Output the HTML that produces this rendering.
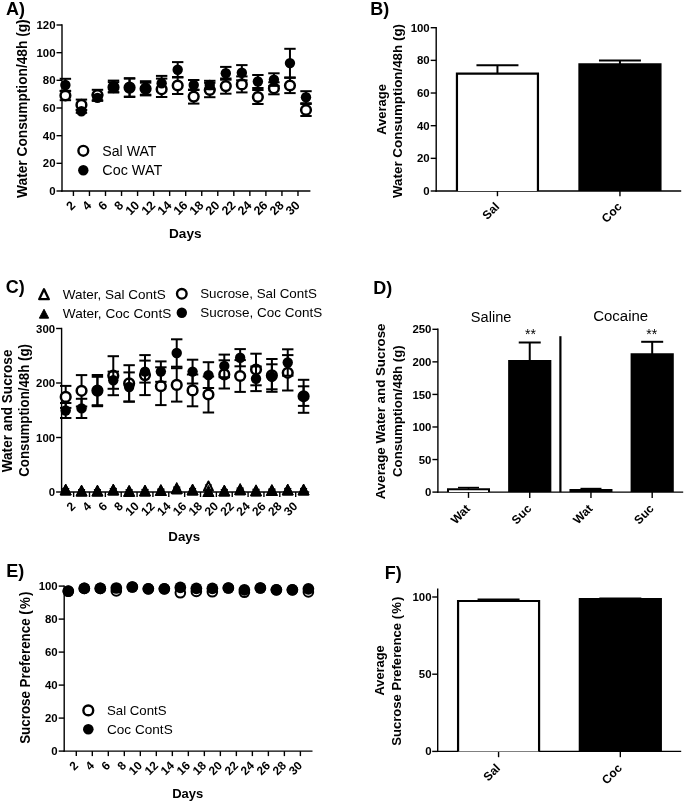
<!DOCTYPE html>
<html lang="en">
<head>
<meta charset="utf-8">
<title>Water and sucrose consumption figure</title>
<style>
html,body{margin:0;padding:0;background:#fff;}
body{width:685px;height:802px;overflow:hidden;}
svg{display:block;filter:grayscale(1);}
svg text{font-family:"Liberation Sans", Arial, Helvetica, sans-serif;fill:#000;}
</style>
</head>
<body>
<svg width="685" height="802" viewBox="0 0 685 802">
<rect x="0" y="0" width="685" height="802" fill="#fff"/>
<text x="5.90" y="14.70" font-size="18" font-weight="bold" text-anchor="start" >A)</text>
<line x1="62.00" y1="24.30" x2="62.00" y2="191.70" stroke="#000" stroke-width="1.4" />
<line x1="56.50" y1="25.00" x2="62.00" y2="25.00" stroke="#000" stroke-width="1.4" />
<text x="55.50" y="29.08" font-size="11.4" font-weight="bold" text-anchor="end" >120</text>
<line x1="56.50" y1="52.67" x2="62.00" y2="52.67" stroke="#000" stroke-width="1.4" />
<text x="55.50" y="56.75" font-size="11.4" font-weight="bold" text-anchor="end" >100</text>
<line x1="56.50" y1="80.33" x2="62.00" y2="80.33" stroke="#000" stroke-width="1.4" />
<text x="55.50" y="84.41" font-size="11.4" font-weight="bold" text-anchor="end" >80</text>
<line x1="56.50" y1="108.00" x2="62.00" y2="108.00" stroke="#000" stroke-width="1.4" />
<text x="55.50" y="112.08" font-size="11.4" font-weight="bold" text-anchor="end" >60</text>
<line x1="56.50" y1="135.67" x2="62.00" y2="135.67" stroke="#000" stroke-width="1.4" />
<text x="55.50" y="139.75" font-size="11.4" font-weight="bold" text-anchor="end" >40</text>
<line x1="56.50" y1="163.33" x2="62.00" y2="163.33" stroke="#000" stroke-width="1.4" />
<text x="55.50" y="167.41" font-size="11.4" font-weight="bold" text-anchor="end" >20</text>
<line x1="56.50" y1="191.00" x2="62.00" y2="191.00" stroke="#000" stroke-width="1.4" />
<text x="55.50" y="195.08" font-size="11.4" font-weight="bold" text-anchor="end" >0</text>
<line x1="61.30" y1="191.00" x2="310.40" y2="191.00" stroke="#000" stroke-width="1.4" />
<line x1="73.42" y1="191.00" x2="73.42" y2="196.00" stroke="#000" stroke-width="1.4" />
<line x1="89.46" y1="191.00" x2="89.46" y2="196.00" stroke="#000" stroke-width="1.4" />
<line x1="105.50" y1="191.00" x2="105.50" y2="196.00" stroke="#000" stroke-width="1.4" />
<line x1="121.54" y1="191.00" x2="121.54" y2="196.00" stroke="#000" stroke-width="1.4" />
<line x1="137.58" y1="191.00" x2="137.58" y2="196.00" stroke="#000" stroke-width="1.4" />
<line x1="153.62" y1="191.00" x2="153.62" y2="196.00" stroke="#000" stroke-width="1.4" />
<line x1="169.66" y1="191.00" x2="169.66" y2="196.00" stroke="#000" stroke-width="1.4" />
<line x1="185.70" y1="191.00" x2="185.70" y2="196.00" stroke="#000" stroke-width="1.4" />
<line x1="201.74" y1="191.00" x2="201.74" y2="196.00" stroke="#000" stroke-width="1.4" />
<line x1="217.78" y1="191.00" x2="217.78" y2="196.00" stroke="#000" stroke-width="1.4" />
<line x1="233.82" y1="191.00" x2="233.82" y2="196.00" stroke="#000" stroke-width="1.4" />
<line x1="249.86" y1="191.00" x2="249.86" y2="196.00" stroke="#000" stroke-width="1.4" />
<line x1="265.90" y1="191.00" x2="265.90" y2="196.00" stroke="#000" stroke-width="1.4" />
<line x1="281.94" y1="191.00" x2="281.94" y2="196.00" stroke="#000" stroke-width="1.4" />
<line x1="297.98" y1="191.00" x2="297.98" y2="196.00" stroke="#000" stroke-width="1.4" />
<text x="0" y="0" transform="translate(76.02,206.10) rotate(-45)" font-size="12.4" font-weight="bold" text-anchor="end" >2</text>
<text x="0" y="0" transform="translate(92.06,206.10) rotate(-45)" font-size="12.4" font-weight="bold" text-anchor="end" >4</text>
<text x="0" y="0" transform="translate(108.10,206.10) rotate(-45)" font-size="12.4" font-weight="bold" text-anchor="end" >6</text>
<text x="0" y="0" transform="translate(124.14,206.10) rotate(-45)" font-size="12.4" font-weight="bold" text-anchor="end" >8</text>
<text x="0" y="0" transform="translate(140.18,206.10) rotate(-45)" font-size="12.4" font-weight="bold" text-anchor="end" >10</text>
<text x="0" y="0" transform="translate(156.22,206.10) rotate(-45)" font-size="12.4" font-weight="bold" text-anchor="end" >12</text>
<text x="0" y="0" transform="translate(172.26,206.10) rotate(-45)" font-size="12.4" font-weight="bold" text-anchor="end" >14</text>
<text x="0" y="0" transform="translate(188.30,206.10) rotate(-45)" font-size="12.4" font-weight="bold" text-anchor="end" >16</text>
<text x="0" y="0" transform="translate(204.34,206.10) rotate(-45)" font-size="12.4" font-weight="bold" text-anchor="end" >18</text>
<text x="0" y="0" transform="translate(220.38,206.10) rotate(-45)" font-size="12.4" font-weight="bold" text-anchor="end" >20</text>
<text x="0" y="0" transform="translate(236.42,206.10) rotate(-45)" font-size="12.4" font-weight="bold" text-anchor="end" >22</text>
<text x="0" y="0" transform="translate(252.46,206.10) rotate(-45)" font-size="12.4" font-weight="bold" text-anchor="end" >24</text>
<text x="0" y="0" transform="translate(268.50,206.10) rotate(-45)" font-size="12.4" font-weight="bold" text-anchor="end" >26</text>
<text x="0" y="0" transform="translate(284.54,206.10) rotate(-45)" font-size="12.4" font-weight="bold" text-anchor="end" >28</text>
<text x="0" y="0" transform="translate(300.58,206.10) rotate(-45)" font-size="12.4" font-weight="bold" text-anchor="end" >30</text>
<text x="185.30" y="238.00" font-size="13.6" font-weight="bold" text-anchor="middle" >Days</text>
<text x="0" y="0" transform="translate(27.30,108.60) rotate(-90)" font-size="14" font-weight="bold" text-anchor="middle" textLength="178.6" lengthAdjust="spacingAndGlyphs" >Water Consumption/48h (g)</text>
<line x1="65.40" y1="90.80" x2="65.40" y2="100.20" stroke="#000" stroke-width="2.0" />
<line x1="59.70" y1="90.80" x2="71.10" y2="90.80" stroke="#000" stroke-width="2.0" />
<line x1="59.70" y1="100.20" x2="71.10" y2="100.20" stroke="#000" stroke-width="2.0" />
<line x1="81.44" y1="99.60" x2="81.44" y2="110.20" stroke="#000" stroke-width="2.0" />
<line x1="75.74" y1="99.60" x2="87.14" y2="99.60" stroke="#000" stroke-width="2.0" />
<line x1="75.74" y1="110.20" x2="87.14" y2="110.20" stroke="#000" stroke-width="2.0" />
<line x1="97.48" y1="89.80" x2="97.48" y2="100.20" stroke="#000" stroke-width="2.0" />
<line x1="91.78" y1="89.80" x2="103.18" y2="89.80" stroke="#000" stroke-width="2.0" />
<line x1="91.78" y1="100.20" x2="103.18" y2="100.20" stroke="#000" stroke-width="2.0" />
<line x1="113.52" y1="82.20" x2="113.52" y2="92.20" stroke="#000" stroke-width="2.0" />
<line x1="107.82" y1="82.20" x2="119.22" y2="82.20" stroke="#000" stroke-width="2.0" />
<line x1="107.82" y1="92.20" x2="119.22" y2="92.20" stroke="#000" stroke-width="2.0" />
<line x1="129.56" y1="78.20" x2="129.56" y2="97.00" stroke="#000" stroke-width="2.0" />
<line x1="123.86" y1="78.20" x2="135.26" y2="78.20" stroke="#000" stroke-width="2.0" />
<line x1="123.86" y1="97.00" x2="135.26" y2="97.00" stroke="#000" stroke-width="2.0" />
<line x1="145.60" y1="82.70" x2="145.60" y2="94.70" stroke="#000" stroke-width="2.0" />
<line x1="139.90" y1="82.70" x2="151.30" y2="82.70" stroke="#000" stroke-width="2.0" />
<line x1="139.90" y1="94.70" x2="151.30" y2="94.70" stroke="#000" stroke-width="2.0" />
<line x1="161.64" y1="78.60" x2="161.64" y2="97.00" stroke="#000" stroke-width="2.0" />
<line x1="155.94" y1="78.60" x2="167.34" y2="78.60" stroke="#000" stroke-width="2.0" />
<line x1="155.94" y1="97.00" x2="167.34" y2="97.00" stroke="#000" stroke-width="2.0" />
<line x1="177.68" y1="77.00" x2="177.68" y2="94.00" stroke="#000" stroke-width="2.0" />
<line x1="171.98" y1="77.00" x2="183.38" y2="77.00" stroke="#000" stroke-width="2.0" />
<line x1="171.98" y1="94.00" x2="183.38" y2="94.00" stroke="#000" stroke-width="2.0" />
<line x1="193.72" y1="89.60" x2="193.72" y2="103.60" stroke="#000" stroke-width="2.0" />
<line x1="188.02" y1="89.60" x2="199.42" y2="89.60" stroke="#000" stroke-width="2.0" />
<line x1="188.02" y1="103.60" x2="199.42" y2="103.60" stroke="#000" stroke-width="2.0" />
<line x1="209.76" y1="82.80" x2="209.76" y2="97.20" stroke="#000" stroke-width="2.0" />
<line x1="204.06" y1="82.80" x2="215.46" y2="82.80" stroke="#000" stroke-width="2.0" />
<line x1="204.06" y1="97.20" x2="215.46" y2="97.20" stroke="#000" stroke-width="2.0" />
<line x1="225.80" y1="78.50" x2="225.80" y2="93.70" stroke="#000" stroke-width="2.0" />
<line x1="220.10" y1="78.50" x2="231.50" y2="78.50" stroke="#000" stroke-width="2.0" />
<line x1="220.10" y1="93.70" x2="231.50" y2="93.70" stroke="#000" stroke-width="2.0" />
<line x1="241.84" y1="76.40" x2="241.84" y2="92.40" stroke="#000" stroke-width="2.0" />
<line x1="236.14" y1="76.40" x2="247.54" y2="76.40" stroke="#000" stroke-width="2.0" />
<line x1="236.14" y1="92.40" x2="247.54" y2="92.40" stroke="#000" stroke-width="2.0" />
<line x1="257.88" y1="90.00" x2="257.88" y2="104.00" stroke="#000" stroke-width="2.0" />
<line x1="252.18" y1="90.00" x2="263.58" y2="90.00" stroke="#000" stroke-width="2.0" />
<line x1="252.18" y1="104.00" x2="263.58" y2="104.00" stroke="#000" stroke-width="2.0" />
<line x1="273.92" y1="82.30" x2="273.92" y2="94.30" stroke="#000" stroke-width="2.0" />
<line x1="268.22" y1="82.30" x2="279.62" y2="82.30" stroke="#000" stroke-width="2.0" />
<line x1="268.22" y1="94.30" x2="279.62" y2="94.30" stroke="#000" stroke-width="2.0" />
<line x1="289.96" y1="77.90" x2="289.96" y2="93.10" stroke="#000" stroke-width="2.0" />
<line x1="284.26" y1="77.90" x2="295.66" y2="77.90" stroke="#000" stroke-width="2.0" />
<line x1="284.26" y1="93.10" x2="295.66" y2="93.10" stroke="#000" stroke-width="2.0" />
<line x1="306.00" y1="104.00" x2="306.00" y2="116.00" stroke="#000" stroke-width="2.0" />
<line x1="300.30" y1="104.00" x2="311.70" y2="104.00" stroke="#000" stroke-width="2.0" />
<line x1="300.30" y1="116.00" x2="311.70" y2="116.00" stroke="#000" stroke-width="2.0" />
<circle cx="65.40" cy="95.50" r="4.85" fill="#fff" stroke="#000" stroke-width="2.5"/>
<circle cx="81.44" cy="104.90" r="4.85" fill="#fff" stroke="#000" stroke-width="2.5"/>
<circle cx="97.48" cy="95.00" r="4.85" fill="#fff" stroke="#000" stroke-width="2.5"/>
<circle cx="113.52" cy="87.20" r="4.85" fill="#fff" stroke="#000" stroke-width="2.5"/>
<circle cx="129.56" cy="87.60" r="4.85" fill="#fff" stroke="#000" stroke-width="2.5"/>
<circle cx="145.60" cy="88.70" r="4.85" fill="#fff" stroke="#000" stroke-width="2.5"/>
<circle cx="161.64" cy="89.30" r="4.85" fill="#fff" stroke="#000" stroke-width="2.5"/>
<circle cx="177.68" cy="85.50" r="4.85" fill="#fff" stroke="#000" stroke-width="2.5"/>
<circle cx="193.72" cy="96.60" r="4.85" fill="#fff" stroke="#000" stroke-width="2.5"/>
<circle cx="209.76" cy="90.00" r="4.85" fill="#fff" stroke="#000" stroke-width="2.5"/>
<circle cx="225.80" cy="86.10" r="4.85" fill="#fff" stroke="#000" stroke-width="2.5"/>
<circle cx="241.84" cy="84.40" r="4.85" fill="#fff" stroke="#000" stroke-width="2.5"/>
<circle cx="257.88" cy="97.00" r="4.85" fill="#fff" stroke="#000" stroke-width="2.5"/>
<circle cx="273.92" cy="88.30" r="4.85" fill="#fff" stroke="#000" stroke-width="2.5"/>
<circle cx="289.96" cy="85.50" r="4.85" fill="#fff" stroke="#000" stroke-width="2.5"/>
<circle cx="306.00" cy="110.00" r="4.85" fill="#fff" stroke="#000" stroke-width="2.5"/>
<line x1="65.40" y1="78.80" x2="65.40" y2="91.20" stroke="#000" stroke-width="2.0" />
<line x1="59.70" y1="78.80" x2="71.10" y2="78.80" stroke="#000" stroke-width="2.0" />
<line x1="59.70" y1="91.20" x2="71.10" y2="91.20" stroke="#000" stroke-width="2.0" />
<line x1="81.44" y1="109.80" x2="81.44" y2="112.80" stroke="#000" stroke-width="2.0" />
<line x1="75.74" y1="109.80" x2="87.14" y2="109.80" stroke="#000" stroke-width="2.0" />
<line x1="75.74" y1="112.80" x2="87.14" y2="112.80" stroke="#000" stroke-width="2.0" />
<line x1="97.48" y1="94.90" x2="97.48" y2="100.90" stroke="#000" stroke-width="2.0" />
<line x1="91.78" y1="94.90" x2="103.18" y2="94.90" stroke="#000" stroke-width="2.0" />
<line x1="91.78" y1="100.90" x2="103.18" y2="100.90" stroke="#000" stroke-width="2.0" />
<line x1="113.52" y1="80.60" x2="113.52" y2="92.40" stroke="#000" stroke-width="2.0" />
<line x1="107.82" y1="80.60" x2="119.22" y2="80.60" stroke="#000" stroke-width="2.0" />
<line x1="107.82" y1="92.40" x2="119.22" y2="92.40" stroke="#000" stroke-width="2.0" />
<line x1="129.56" y1="78.60" x2="129.56" y2="96.60" stroke="#000" stroke-width="2.0" />
<line x1="123.86" y1="78.60" x2="135.26" y2="78.60" stroke="#000" stroke-width="2.0" />
<line x1="123.86" y1="96.60" x2="135.26" y2="96.60" stroke="#000" stroke-width="2.0" />
<line x1="145.60" y1="81.20" x2="145.60" y2="95.40" stroke="#000" stroke-width="2.0" />
<line x1="139.90" y1="81.20" x2="151.30" y2="81.20" stroke="#000" stroke-width="2.0" />
<line x1="139.90" y1="95.40" x2="151.30" y2="95.40" stroke="#000" stroke-width="2.0" />
<line x1="161.64" y1="75.90" x2="161.64" y2="83.30" stroke="#000" stroke-width="2.0" />
<line x1="155.94" y1="75.90" x2="167.34" y2="75.90" stroke="#000" stroke-width="2.0" />
<line x1="177.68" y1="62.10" x2="177.68" y2="77.50" stroke="#000" stroke-width="2.0" />
<line x1="171.98" y1="62.10" x2="183.38" y2="62.10" stroke="#000" stroke-width="2.0" />
<line x1="171.98" y1="77.50" x2="183.38" y2="77.50" stroke="#000" stroke-width="2.0" />
<line x1="193.72" y1="80.00" x2="193.72" y2="90.00" stroke="#000" stroke-width="2.0" />
<line x1="188.02" y1="80.00" x2="199.42" y2="80.00" stroke="#000" stroke-width="2.0" />
<line x1="188.02" y1="90.00" x2="199.42" y2="90.00" stroke="#000" stroke-width="2.0" />
<line x1="209.76" y1="80.80" x2="209.76" y2="89.20" stroke="#000" stroke-width="2.0" />
<line x1="204.06" y1="80.80" x2="215.46" y2="80.80" stroke="#000" stroke-width="2.0" />
<line x1="204.06" y1="89.20" x2="215.46" y2="89.20" stroke="#000" stroke-width="2.0" />
<line x1="225.80" y1="66.90" x2="225.80" y2="79.70" stroke="#000" stroke-width="2.0" />
<line x1="220.10" y1="66.90" x2="231.50" y2="66.90" stroke="#000" stroke-width="2.0" />
<line x1="220.10" y1="79.70" x2="231.50" y2="79.70" stroke="#000" stroke-width="2.0" />
<line x1="241.84" y1="65.10" x2="241.84" y2="80.30" stroke="#000" stroke-width="2.0" />
<line x1="236.14" y1="65.10" x2="247.54" y2="65.10" stroke="#000" stroke-width="2.0" />
<line x1="236.14" y1="80.30" x2="247.54" y2="80.30" stroke="#000" stroke-width="2.0" />
<line x1="257.88" y1="75.00" x2="257.88" y2="88.00" stroke="#000" stroke-width="2.0" />
<line x1="252.18" y1="75.00" x2="263.58" y2="75.00" stroke="#000" stroke-width="2.0" />
<line x1="252.18" y1="88.00" x2="263.58" y2="88.00" stroke="#000" stroke-width="2.0" />
<line x1="273.92" y1="73.30" x2="273.92" y2="85.90" stroke="#000" stroke-width="2.0" />
<line x1="268.22" y1="73.30" x2="279.62" y2="73.30" stroke="#000" stroke-width="2.0" />
<line x1="268.22" y1="85.90" x2="279.62" y2="85.90" stroke="#000" stroke-width="2.0" />
<line x1="289.96" y1="48.80" x2="289.96" y2="77.40" stroke="#000" stroke-width="2.0" />
<line x1="284.26" y1="48.80" x2="295.66" y2="48.80" stroke="#000" stroke-width="2.0" />
<line x1="284.26" y1="77.40" x2="295.66" y2="77.40" stroke="#000" stroke-width="2.0" />
<line x1="306.00" y1="91.20" x2="306.00" y2="103.20" stroke="#000" stroke-width="2.0" />
<line x1="300.30" y1="91.20" x2="311.70" y2="91.20" stroke="#000" stroke-width="2.0" />
<line x1="300.30" y1="103.20" x2="311.70" y2="103.20" stroke="#000" stroke-width="2.0" />
<circle cx="65.40" cy="85.00" r="5.2" fill="#000"/>
<circle cx="81.44" cy="111.30" r="5.2" fill="#000"/>
<circle cx="97.48" cy="97.90" r="5.2" fill="#000"/>
<circle cx="113.52" cy="86.50" r="5.2" fill="#000"/>
<circle cx="129.56" cy="87.60" r="5.2" fill="#000"/>
<circle cx="145.60" cy="88.30" r="5.2" fill="#000"/>
<circle cx="161.64" cy="83.30" r="5.2" fill="#000"/>
<circle cx="177.68" cy="69.80" r="5.2" fill="#000"/>
<circle cx="193.72" cy="85.00" r="5.2" fill="#000"/>
<circle cx="209.76" cy="85.00" r="5.2" fill="#000"/>
<circle cx="225.80" cy="73.30" r="5.2" fill="#000"/>
<circle cx="241.84" cy="72.70" r="5.2" fill="#000"/>
<circle cx="257.88" cy="81.50" r="5.2" fill="#000"/>
<circle cx="273.92" cy="79.60" r="5.2" fill="#000"/>
<circle cx="289.96" cy="63.10" r="5.2" fill="#000"/>
<circle cx="306.00" cy="97.20" r="5.2" fill="#000"/>
<circle cx="83.30" cy="150.80" r="4.9" fill="#fff" stroke="#000" stroke-width="2.4"/>
<text x="102.30" y="155.60" font-size="14" font-weight="normal" text-anchor="start" textLength="54.2" lengthAdjust="spacingAndGlyphs" >Sal WAT</text>
<circle cx="83.30" cy="170.20" r="5.2" fill="#000"/>
<text x="102.30" y="174.60" font-size="14" font-weight="normal" text-anchor="start" textLength="59.9" lengthAdjust="spacingAndGlyphs" >Coc WAT</text>
<text x="370.30" y="14.90" font-size="18" font-weight="bold" text-anchor="start" >B)</text>
<line x1="436.20" y1="27.00" x2="436.20" y2="191.70" stroke="#000" stroke-width="1.4" />
<line x1="430.70" y1="27.70" x2="436.20" y2="27.70" stroke="#000" stroke-width="1.4" />
<text x="429.70" y="31.78" font-size="11.4" font-weight="bold" text-anchor="end" >100</text>
<line x1="430.70" y1="60.36" x2="436.20" y2="60.36" stroke="#000" stroke-width="1.4" />
<text x="429.70" y="64.44" font-size="11.4" font-weight="bold" text-anchor="end" >80</text>
<line x1="430.70" y1="93.02" x2="436.20" y2="93.02" stroke="#000" stroke-width="1.4" />
<text x="429.70" y="97.10" font-size="11.4" font-weight="bold" text-anchor="end" >60</text>
<line x1="430.70" y1="125.68" x2="436.20" y2="125.68" stroke="#000" stroke-width="1.4" />
<text x="429.70" y="129.76" font-size="11.4" font-weight="bold" text-anchor="end" >40</text>
<line x1="430.70" y1="158.34" x2="436.20" y2="158.34" stroke="#000" stroke-width="1.4" />
<text x="429.70" y="162.42" font-size="11.4" font-weight="bold" text-anchor="end" >20</text>
<line x1="430.70" y1="191.00" x2="436.20" y2="191.00" stroke="#000" stroke-width="1.4" />
<text x="429.70" y="195.08" font-size="11.4" font-weight="bold" text-anchor="end" >0</text>
<line x1="435.50" y1="191.00" x2="681.20" y2="191.00" stroke="#000" stroke-width="1.4" />
<line x1="497.45" y1="191.00" x2="497.45" y2="196.20" stroke="#000" stroke-width="1.4" />
<line x1="619.95" y1="191.00" x2="619.95" y2="196.20" stroke="#000" stroke-width="1.4" />
<line x1="497.45" y1="65.30" x2="497.45" y2="73.20" stroke="#000" stroke-width="2.0" />
<line x1="476.45" y1="65.30" x2="518.45" y2="65.30" stroke="#000" stroke-width="2.0" />
<path d="M456.95,191.00 V73.60 H537.95 V191.00" fill="#fff" stroke="#000" stroke-width="2.2" stroke-linejoin="miter"/>
<line x1="619.95" y1="60.40" x2="619.95" y2="64.40" stroke="#000" stroke-width="2.0" />
<line x1="598.95" y1="60.40" x2="640.95" y2="60.40" stroke="#000" stroke-width="2.0" />
<path d="M579.45,191.00 V64.40 H660.45 V191.00" fill="#000" stroke="#000" stroke-width="2.2" stroke-linejoin="miter"/>
<text x="0" y="0" transform="translate(500.05,207.40) rotate(-45)" font-size="12" font-weight="bold" text-anchor="end" >Sal</text>
<text x="0" y="0" transform="translate(622.55,207.40) rotate(-45)" font-size="12" font-weight="bold" text-anchor="end" >Coc</text>
<text x="0" y="0" transform="translate(386.00,109.40) rotate(-90)" font-size="13.4" font-weight="bold" text-anchor="middle" textLength="50.8" lengthAdjust="spacingAndGlyphs" >Average</text>
<text x="0" y="0" transform="translate(401.90,111.00) rotate(-90)" font-size="13.5" font-weight="bold" text-anchor="middle" textLength="174.0" lengthAdjust="spacingAndGlyphs" >Water Consumption/48h (g)</text>
<text x="5.80" y="293.00" font-size="18" font-weight="bold" text-anchor="start" >C)</text>
<line x1="61.60" y1="327.80" x2="61.60" y2="492.70" stroke="#000" stroke-width="1.4" />
<line x1="56.10" y1="328.50" x2="61.60" y2="328.50" stroke="#000" stroke-width="1.4" />
<text x="55.10" y="332.58" font-size="11.4" font-weight="bold" text-anchor="end" >300</text>
<line x1="56.10" y1="383.00" x2="61.60" y2="383.00" stroke="#000" stroke-width="1.4" />
<text x="55.10" y="387.08" font-size="11.4" font-weight="bold" text-anchor="end" >200</text>
<line x1="56.10" y1="437.50" x2="61.60" y2="437.50" stroke="#000" stroke-width="1.4" />
<text x="55.10" y="441.58" font-size="11.4" font-weight="bold" text-anchor="end" >100</text>
<line x1="56.10" y1="492.00" x2="61.60" y2="492.00" stroke="#000" stroke-width="1.4" />
<text x="55.10" y="496.08" font-size="11.4" font-weight="bold" text-anchor="end" >0</text>
<line x1="60.90" y1="492.00" x2="309.20" y2="492.00" stroke="#000" stroke-width="1.4" />
<line x1="73.63" y1="492.00" x2="73.63" y2="497.00" stroke="#000" stroke-width="1.4" />
<line x1="89.49" y1="492.00" x2="89.49" y2="497.00" stroke="#000" stroke-width="1.4" />
<line x1="105.35" y1="492.00" x2="105.35" y2="497.00" stroke="#000" stroke-width="1.4" />
<line x1="121.21" y1="492.00" x2="121.21" y2="497.00" stroke="#000" stroke-width="1.4" />
<line x1="137.07" y1="492.00" x2="137.07" y2="497.00" stroke="#000" stroke-width="1.4" />
<line x1="152.93" y1="492.00" x2="152.93" y2="497.00" stroke="#000" stroke-width="1.4" />
<line x1="168.79" y1="492.00" x2="168.79" y2="497.00" stroke="#000" stroke-width="1.4" />
<line x1="184.65" y1="492.00" x2="184.65" y2="497.00" stroke="#000" stroke-width="1.4" />
<line x1="200.51" y1="492.00" x2="200.51" y2="497.00" stroke="#000" stroke-width="1.4" />
<line x1="216.37" y1="492.00" x2="216.37" y2="497.00" stroke="#000" stroke-width="1.4" />
<line x1="232.23" y1="492.00" x2="232.23" y2="497.00" stroke="#000" stroke-width="1.4" />
<line x1="248.09" y1="492.00" x2="248.09" y2="497.00" stroke="#000" stroke-width="1.4" />
<line x1="263.95" y1="492.00" x2="263.95" y2="497.00" stroke="#000" stroke-width="1.4" />
<line x1="279.81" y1="492.00" x2="279.81" y2="497.00" stroke="#000" stroke-width="1.4" />
<line x1="295.67" y1="492.00" x2="295.67" y2="497.00" stroke="#000" stroke-width="1.4" />
<text x="0" y="0" transform="translate(76.23,507.10) rotate(-45)" font-size="12.1" font-weight="bold" text-anchor="end" >2</text>
<text x="0" y="0" transform="translate(92.09,507.10) rotate(-45)" font-size="12.1" font-weight="bold" text-anchor="end" >4</text>
<text x="0" y="0" transform="translate(107.95,507.10) rotate(-45)" font-size="12.1" font-weight="bold" text-anchor="end" >6</text>
<text x="0" y="0" transform="translate(123.81,507.10) rotate(-45)" font-size="12.1" font-weight="bold" text-anchor="end" >8</text>
<text x="0" y="0" transform="translate(139.67,507.10) rotate(-45)" font-size="12.1" font-weight="bold" text-anchor="end" >10</text>
<text x="0" y="0" transform="translate(155.53,507.10) rotate(-45)" font-size="12.1" font-weight="bold" text-anchor="end" >12</text>
<text x="0" y="0" transform="translate(171.39,507.10) rotate(-45)" font-size="12.1" font-weight="bold" text-anchor="end" >14</text>
<text x="0" y="0" transform="translate(187.25,507.10) rotate(-45)" font-size="12.1" font-weight="bold" text-anchor="end" >16</text>
<text x="0" y="0" transform="translate(203.11,507.10) rotate(-45)" font-size="12.1" font-weight="bold" text-anchor="end" >18</text>
<text x="0" y="0" transform="translate(218.97,507.10) rotate(-45)" font-size="12.1" font-weight="bold" text-anchor="end" >20</text>
<text x="0" y="0" transform="translate(234.83,507.10) rotate(-45)" font-size="12.1" font-weight="bold" text-anchor="end" >22</text>
<text x="0" y="0" transform="translate(250.69,507.10) rotate(-45)" font-size="12.1" font-weight="bold" text-anchor="end" >24</text>
<text x="0" y="0" transform="translate(266.55,507.10) rotate(-45)" font-size="12.1" font-weight="bold" text-anchor="end" >26</text>
<text x="0" y="0" transform="translate(282.41,507.10) rotate(-45)" font-size="12.1" font-weight="bold" text-anchor="end" >28</text>
<text x="0" y="0" transform="translate(298.27,507.10) rotate(-45)" font-size="12.1" font-weight="bold" text-anchor="end" >30</text>
<text x="184.20" y="540.70" font-size="13.3" font-weight="bold" text-anchor="middle" >Days</text>
<text x="0" y="0" transform="translate(12.20,410.90) rotate(-90)" font-size="14" font-weight="bold" text-anchor="middle" textLength="122.8" lengthAdjust="spacingAndGlyphs" >Water and Sucrose</text>
<text x="0" y="0" transform="translate(28.90,410.40) rotate(-90)" font-size="14" font-weight="bold" text-anchor="middle" textLength="132.8" lengthAdjust="spacingAndGlyphs" >Consumption/48h (g)</text>
<line x1="65.70" y1="489.00" x2="65.70" y2="491.00" stroke="#000" stroke-width="1.2" />
<line x1="62.20" y1="489.00" x2="69.20" y2="489.00" stroke="#000" stroke-width="1.2" />
<line x1="62.20" y1="491.00" x2="69.20" y2="491.00" stroke="#000" stroke-width="1.2" />
<polygon points="65.70,485.50 70.20,494.50 61.20,494.50" fill="#fff" stroke="#000" stroke-width="2.0" stroke-linejoin="round"/>
<line x1="81.56" y1="490.00" x2="81.56" y2="492.00" stroke="#000" stroke-width="1.2" />
<line x1="78.06" y1="490.00" x2="85.06" y2="490.00" stroke="#000" stroke-width="1.2" />
<line x1="78.06" y1="492.00" x2="85.06" y2="492.00" stroke="#000" stroke-width="1.2" />
<polygon points="81.56,486.50 86.06,495.50 77.06,495.50" fill="#fff" stroke="#000" stroke-width="2.0" stroke-linejoin="round"/>
<line x1="97.42" y1="490.00" x2="97.42" y2="492.00" stroke="#000" stroke-width="1.2" />
<line x1="93.92" y1="490.00" x2="100.92" y2="490.00" stroke="#000" stroke-width="1.2" />
<line x1="93.92" y1="492.00" x2="100.92" y2="492.00" stroke="#000" stroke-width="1.2" />
<polygon points="97.42,486.50 101.92,495.50 92.92,495.50" fill="#fff" stroke="#000" stroke-width="2.0" stroke-linejoin="round"/>
<line x1="113.28" y1="489.00" x2="113.28" y2="491.00" stroke="#000" stroke-width="1.2" />
<line x1="109.78" y1="489.00" x2="116.78" y2="489.00" stroke="#000" stroke-width="1.2" />
<line x1="109.78" y1="491.00" x2="116.78" y2="491.00" stroke="#000" stroke-width="1.2" />
<polygon points="113.28,485.50 117.78,494.50 108.78,494.50" fill="#fff" stroke="#000" stroke-width="2.0" stroke-linejoin="round"/>
<line x1="129.14" y1="490.00" x2="129.14" y2="492.00" stroke="#000" stroke-width="1.2" />
<line x1="125.64" y1="490.00" x2="132.64" y2="490.00" stroke="#000" stroke-width="1.2" />
<line x1="125.64" y1="492.00" x2="132.64" y2="492.00" stroke="#000" stroke-width="1.2" />
<polygon points="129.14,486.50 133.64,495.50 124.64,495.50" fill="#fff" stroke="#000" stroke-width="2.0" stroke-linejoin="round"/>
<line x1="145.00" y1="490.00" x2="145.00" y2="492.00" stroke="#000" stroke-width="1.2" />
<line x1="141.50" y1="490.00" x2="148.50" y2="490.00" stroke="#000" stroke-width="1.2" />
<line x1="141.50" y1="492.00" x2="148.50" y2="492.00" stroke="#000" stroke-width="1.2" />
<polygon points="145.00,486.50 149.50,495.50 140.50,495.50" fill="#fff" stroke="#000" stroke-width="2.0" stroke-linejoin="round"/>
<line x1="160.86" y1="489.50" x2="160.86" y2="491.50" stroke="#000" stroke-width="1.2" />
<line x1="157.36" y1="489.50" x2="164.36" y2="489.50" stroke="#000" stroke-width="1.2" />
<line x1="157.36" y1="491.50" x2="164.36" y2="491.50" stroke="#000" stroke-width="1.2" />
<polygon points="160.86,486.00 165.36,495.00 156.36,495.00" fill="#fff" stroke="#000" stroke-width="2.0" stroke-linejoin="round"/>
<line x1="176.72" y1="488.00" x2="176.72" y2="490.00" stroke="#000" stroke-width="1.2" />
<line x1="173.22" y1="488.00" x2="180.22" y2="488.00" stroke="#000" stroke-width="1.2" />
<line x1="173.22" y1="490.00" x2="180.22" y2="490.00" stroke="#000" stroke-width="1.2" />
<polygon points="176.72,484.50 181.22,493.50 172.22,493.50" fill="#fff" stroke="#000" stroke-width="2.0" stroke-linejoin="round"/>
<line x1="192.58" y1="489.00" x2="192.58" y2="491.00" stroke="#000" stroke-width="1.2" />
<line x1="189.08" y1="489.00" x2="196.08" y2="489.00" stroke="#000" stroke-width="1.2" />
<line x1="189.08" y1="491.00" x2="196.08" y2="491.00" stroke="#000" stroke-width="1.2" />
<polygon points="192.58,485.50 197.08,494.50 188.08,494.50" fill="#fff" stroke="#000" stroke-width="2.0" stroke-linejoin="round"/>
<line x1="208.44" y1="485.00" x2="208.44" y2="487.00" stroke="#000" stroke-width="1.2" />
<line x1="204.94" y1="485.00" x2="211.94" y2="485.00" stroke="#000" stroke-width="1.2" />
<line x1="204.94" y1="487.00" x2="211.94" y2="487.00" stroke="#000" stroke-width="1.2" />
<polygon points="208.44,481.50 212.94,490.50 203.94,490.50" fill="#fff" stroke="#000" stroke-width="2.0" stroke-linejoin="round"/>
<line x1="224.30" y1="490.00" x2="224.30" y2="492.00" stroke="#000" stroke-width="1.2" />
<line x1="220.80" y1="490.00" x2="227.80" y2="490.00" stroke="#000" stroke-width="1.2" />
<line x1="220.80" y1="492.00" x2="227.80" y2="492.00" stroke="#000" stroke-width="1.2" />
<polygon points="224.30,486.50 228.80,495.50 219.80,495.50" fill="#fff" stroke="#000" stroke-width="2.0" stroke-linejoin="round"/>
<line x1="240.16" y1="489.00" x2="240.16" y2="491.00" stroke="#000" stroke-width="1.2" />
<line x1="236.66" y1="489.00" x2="243.66" y2="489.00" stroke="#000" stroke-width="1.2" />
<line x1="236.66" y1="491.00" x2="243.66" y2="491.00" stroke="#000" stroke-width="1.2" />
<polygon points="240.16,485.50 244.66,494.50 235.66,494.50" fill="#fff" stroke="#000" stroke-width="2.0" stroke-linejoin="round"/>
<line x1="256.02" y1="490.00" x2="256.02" y2="492.00" stroke="#000" stroke-width="1.2" />
<line x1="252.52" y1="490.00" x2="259.52" y2="490.00" stroke="#000" stroke-width="1.2" />
<line x1="252.52" y1="492.00" x2="259.52" y2="492.00" stroke="#000" stroke-width="1.2" />
<polygon points="256.02,486.50 260.52,495.50 251.52,495.50" fill="#fff" stroke="#000" stroke-width="2.0" stroke-linejoin="round"/>
<line x1="271.88" y1="489.50" x2="271.88" y2="491.50" stroke="#000" stroke-width="1.2" />
<line x1="268.38" y1="489.50" x2="275.38" y2="489.50" stroke="#000" stroke-width="1.2" />
<line x1="268.38" y1="491.50" x2="275.38" y2="491.50" stroke="#000" stroke-width="1.2" />
<polygon points="271.88,486.00 276.38,495.00 267.38,495.00" fill="#fff" stroke="#000" stroke-width="2.0" stroke-linejoin="round"/>
<line x1="287.74" y1="489.00" x2="287.74" y2="491.00" stroke="#000" stroke-width="1.2" />
<line x1="284.24" y1="489.00" x2="291.24" y2="489.00" stroke="#000" stroke-width="1.2" />
<line x1="284.24" y1="491.00" x2="291.24" y2="491.00" stroke="#000" stroke-width="1.2" />
<polygon points="287.74,485.50 292.24,494.50 283.24,494.50" fill="#fff" stroke="#000" stroke-width="2.0" stroke-linejoin="round"/>
<line x1="303.60" y1="489.00" x2="303.60" y2="491.00" stroke="#000" stroke-width="1.2" />
<line x1="300.10" y1="489.00" x2="307.10" y2="489.00" stroke="#000" stroke-width="1.2" />
<line x1="300.10" y1="491.00" x2="307.10" y2="491.00" stroke="#000" stroke-width="1.2" />
<polygon points="303.60,485.50 308.10,494.50 299.10,494.50" fill="#fff" stroke="#000" stroke-width="2.0" stroke-linejoin="round"/>
<line x1="65.70" y1="385.90" x2="65.70" y2="407.90" stroke="#000" stroke-width="2.0" />
<line x1="60.00" y1="385.90" x2="71.40" y2="385.90" stroke="#000" stroke-width="2.0" />
<line x1="60.00" y1="407.90" x2="71.40" y2="407.90" stroke="#000" stroke-width="2.0" />
<line x1="81.56" y1="375.10" x2="81.56" y2="406.50" stroke="#000" stroke-width="2.0" />
<line x1="75.86" y1="375.10" x2="87.26" y2="375.10" stroke="#000" stroke-width="2.0" />
<line x1="75.86" y1="406.50" x2="87.26" y2="406.50" stroke="#000" stroke-width="2.0" />
<line x1="97.42" y1="375.00" x2="97.42" y2="406.20" stroke="#000" stroke-width="2.0" />
<line x1="91.72" y1="375.00" x2="103.12" y2="375.00" stroke="#000" stroke-width="2.0" />
<line x1="91.72" y1="406.20" x2="103.12" y2="406.20" stroke="#000" stroke-width="2.0" />
<line x1="113.28" y1="356.20" x2="113.28" y2="395.20" stroke="#000" stroke-width="2.0" />
<line x1="107.58" y1="356.20" x2="118.98" y2="356.20" stroke="#000" stroke-width="2.0" />
<line x1="107.58" y1="395.20" x2="118.98" y2="395.20" stroke="#000" stroke-width="2.0" />
<line x1="129.14" y1="365.20" x2="129.14" y2="401.60" stroke="#000" stroke-width="2.0" />
<line x1="123.44" y1="365.20" x2="134.84" y2="365.20" stroke="#000" stroke-width="2.0" />
<line x1="123.44" y1="401.60" x2="134.84" y2="401.60" stroke="#000" stroke-width="2.0" />
<line x1="145.00" y1="355.10" x2="145.00" y2="395.10" stroke="#000" stroke-width="2.0" />
<line x1="139.30" y1="355.10" x2="150.70" y2="355.10" stroke="#000" stroke-width="2.0" />
<line x1="139.30" y1="395.10" x2="150.70" y2="395.10" stroke="#000" stroke-width="2.0" />
<line x1="160.86" y1="367.30" x2="160.86" y2="405.10" stroke="#000" stroke-width="2.0" />
<line x1="155.16" y1="367.30" x2="166.56" y2="367.30" stroke="#000" stroke-width="2.0" />
<line x1="155.16" y1="405.10" x2="166.56" y2="405.10" stroke="#000" stroke-width="2.0" />
<line x1="176.72" y1="368.20" x2="176.72" y2="401.60" stroke="#000" stroke-width="2.0" />
<line x1="171.02" y1="368.20" x2="182.42" y2="368.20" stroke="#000" stroke-width="2.0" />
<line x1="171.02" y1="401.60" x2="182.42" y2="401.60" stroke="#000" stroke-width="2.0" />
<line x1="192.58" y1="374.50" x2="192.58" y2="406.30" stroke="#000" stroke-width="2.0" />
<line x1="186.88" y1="374.50" x2="198.28" y2="374.50" stroke="#000" stroke-width="2.0" />
<line x1="186.88" y1="406.30" x2="198.28" y2="406.30" stroke="#000" stroke-width="2.0" />
<line x1="208.44" y1="376.50" x2="208.44" y2="412.50" stroke="#000" stroke-width="2.0" />
<line x1="202.74" y1="376.50" x2="214.14" y2="376.50" stroke="#000" stroke-width="2.0" />
<line x1="202.74" y1="412.50" x2="214.14" y2="412.50" stroke="#000" stroke-width="2.0" />
<line x1="224.30" y1="360.30" x2="224.30" y2="388.50" stroke="#000" stroke-width="2.0" />
<line x1="218.60" y1="360.30" x2="230.00" y2="360.30" stroke="#000" stroke-width="2.0" />
<line x1="218.60" y1="388.50" x2="230.00" y2="388.50" stroke="#000" stroke-width="2.0" />
<line x1="240.16" y1="360.10" x2="240.16" y2="391.90" stroke="#000" stroke-width="2.0" />
<line x1="234.46" y1="360.10" x2="245.86" y2="360.10" stroke="#000" stroke-width="2.0" />
<line x1="234.46" y1="391.90" x2="245.86" y2="391.90" stroke="#000" stroke-width="2.0" />
<line x1="256.02" y1="353.70" x2="256.02" y2="385.30" stroke="#000" stroke-width="2.0" />
<line x1="250.32" y1="353.70" x2="261.72" y2="353.70" stroke="#000" stroke-width="2.0" />
<line x1="250.32" y1="385.30" x2="261.72" y2="385.30" stroke="#000" stroke-width="2.0" />
<line x1="271.88" y1="359.00" x2="271.88" y2="391.80" stroke="#000" stroke-width="2.0" />
<line x1="266.18" y1="359.00" x2="277.58" y2="359.00" stroke="#000" stroke-width="2.0" />
<line x1="266.18" y1="391.80" x2="277.58" y2="391.80" stroke="#000" stroke-width="2.0" />
<line x1="287.74" y1="355.10" x2="287.74" y2="390.50" stroke="#000" stroke-width="2.0" />
<line x1="282.04" y1="355.10" x2="293.44" y2="355.10" stroke="#000" stroke-width="2.0" />
<line x1="282.04" y1="390.50" x2="293.44" y2="390.50" stroke="#000" stroke-width="2.0" />
<line x1="303.60" y1="379.80" x2="303.60" y2="412.80" stroke="#000" stroke-width="2.0" />
<line x1="297.90" y1="379.80" x2="309.30" y2="379.80" stroke="#000" stroke-width="2.0" />
<line x1="297.90" y1="412.80" x2="309.30" y2="412.80" stroke="#000" stroke-width="2.0" />
<circle cx="65.70" cy="396.90" r="4.85" fill="#fff" stroke="#000" stroke-width="2.5"/>
<circle cx="81.56" cy="390.80" r="4.85" fill="#fff" stroke="#000" stroke-width="2.5"/>
<circle cx="97.42" cy="390.60" r="4.85" fill="#fff" stroke="#000" stroke-width="2.5"/>
<circle cx="113.28" cy="375.70" r="4.85" fill="#fff" stroke="#000" stroke-width="2.5"/>
<circle cx="129.14" cy="383.40" r="4.85" fill="#fff" stroke="#000" stroke-width="2.5"/>
<circle cx="145.00" cy="375.10" r="4.85" fill="#fff" stroke="#000" stroke-width="2.5"/>
<circle cx="160.86" cy="386.20" r="4.85" fill="#fff" stroke="#000" stroke-width="2.5"/>
<circle cx="176.72" cy="384.90" r="4.85" fill="#fff" stroke="#000" stroke-width="2.5"/>
<circle cx="192.58" cy="390.40" r="4.85" fill="#fff" stroke="#000" stroke-width="2.5"/>
<circle cx="208.44" cy="394.50" r="4.85" fill="#fff" stroke="#000" stroke-width="2.5"/>
<circle cx="224.30" cy="374.40" r="4.85" fill="#fff" stroke="#000" stroke-width="2.5"/>
<circle cx="240.16" cy="376.00" r="4.85" fill="#fff" stroke="#000" stroke-width="2.5"/>
<circle cx="256.02" cy="369.50" r="4.85" fill="#fff" stroke="#000" stroke-width="2.5"/>
<circle cx="271.88" cy="375.40" r="4.85" fill="#fff" stroke="#000" stroke-width="2.5"/>
<circle cx="287.74" cy="372.80" r="4.85" fill="#fff" stroke="#000" stroke-width="2.5"/>
<circle cx="303.60" cy="396.30" r="4.85" fill="#fff" stroke="#000" stroke-width="2.5"/>
<line x1="65.70" y1="488.50" x2="65.70" y2="490.50" stroke="#000" stroke-width="1.2" />
<line x1="62.20" y1="488.50" x2="69.20" y2="488.50" stroke="#000" stroke-width="1.2" />
<line x1="62.20" y1="490.50" x2="69.20" y2="490.50" stroke="#000" stroke-width="1.2" />
<polygon points="65.70,484.00 71.30,495.00 60.10,495.00" fill="#000" stroke="#000" stroke-width="1" stroke-linejoin="round"/>
<line x1="81.56" y1="489.60" x2="81.56" y2="491.60" stroke="#000" stroke-width="1.2" />
<line x1="78.06" y1="489.60" x2="85.06" y2="489.60" stroke="#000" stroke-width="1.2" />
<line x1="78.06" y1="491.60" x2="85.06" y2="491.60" stroke="#000" stroke-width="1.2" />
<polygon points="81.56,485.10 87.16,496.10 75.96,496.10" fill="#000" stroke="#000" stroke-width="1" stroke-linejoin="round"/>
<line x1="97.42" y1="489.60" x2="97.42" y2="491.60" stroke="#000" stroke-width="1.2" />
<line x1="93.92" y1="489.60" x2="100.92" y2="489.60" stroke="#000" stroke-width="1.2" />
<line x1="93.92" y1="491.60" x2="100.92" y2="491.60" stroke="#000" stroke-width="1.2" />
<polygon points="97.42,485.10 103.02,496.10 91.82,496.10" fill="#000" stroke="#000" stroke-width="1" stroke-linejoin="round"/>
<line x1="113.28" y1="488.50" x2="113.28" y2="490.50" stroke="#000" stroke-width="1.2" />
<line x1="109.78" y1="488.50" x2="116.78" y2="488.50" stroke="#000" stroke-width="1.2" />
<line x1="109.78" y1="490.50" x2="116.78" y2="490.50" stroke="#000" stroke-width="1.2" />
<polygon points="113.28,484.00 118.88,495.00 107.68,495.00" fill="#000" stroke="#000" stroke-width="1" stroke-linejoin="round"/>
<line x1="129.14" y1="489.90" x2="129.14" y2="491.90" stroke="#000" stroke-width="1.2" />
<line x1="125.64" y1="489.90" x2="132.64" y2="489.90" stroke="#000" stroke-width="1.2" />
<line x1="125.64" y1="491.90" x2="132.64" y2="491.90" stroke="#000" stroke-width="1.2" />
<polygon points="129.14,485.40 134.74,496.40 123.54,496.40" fill="#000" stroke="#000" stroke-width="1" stroke-linejoin="round"/>
<line x1="145.00" y1="489.50" x2="145.00" y2="491.50" stroke="#000" stroke-width="1.2" />
<line x1="141.50" y1="489.50" x2="148.50" y2="489.50" stroke="#000" stroke-width="1.2" />
<line x1="141.50" y1="491.50" x2="148.50" y2="491.50" stroke="#000" stroke-width="1.2" />
<polygon points="145.00,485.00 150.60,496.00 139.40,496.00" fill="#000" stroke="#000" stroke-width="1" stroke-linejoin="round"/>
<line x1="160.86" y1="489.00" x2="160.86" y2="491.00" stroke="#000" stroke-width="1.2" />
<line x1="157.36" y1="489.00" x2="164.36" y2="489.00" stroke="#000" stroke-width="1.2" />
<line x1="157.36" y1="491.00" x2="164.36" y2="491.00" stroke="#000" stroke-width="1.2" />
<polygon points="160.86,484.50 166.46,495.50 155.26,495.50" fill="#000" stroke="#000" stroke-width="1" stroke-linejoin="round"/>
<line x1="176.72" y1="487.00" x2="176.72" y2="489.00" stroke="#000" stroke-width="1.2" />
<line x1="173.22" y1="487.00" x2="180.22" y2="487.00" stroke="#000" stroke-width="1.2" />
<line x1="173.22" y1="489.00" x2="180.22" y2="489.00" stroke="#000" stroke-width="1.2" />
<polygon points="176.72,482.50 182.32,493.50 171.12,493.50" fill="#000" stroke="#000" stroke-width="1" stroke-linejoin="round"/>
<line x1="192.58" y1="488.50" x2="192.58" y2="490.50" stroke="#000" stroke-width="1.2" />
<line x1="189.08" y1="488.50" x2="196.08" y2="488.50" stroke="#000" stroke-width="1.2" />
<line x1="189.08" y1="490.50" x2="196.08" y2="490.50" stroke="#000" stroke-width="1.2" />
<polygon points="192.58,484.00 198.18,495.00 186.98,495.00" fill="#000" stroke="#000" stroke-width="1" stroke-linejoin="round"/>
<line x1="208.44" y1="490.00" x2="208.44" y2="492.00" stroke="#000" stroke-width="1.2" />
<line x1="204.94" y1="490.00" x2="211.94" y2="490.00" stroke="#000" stroke-width="1.2" />
<line x1="204.94" y1="492.00" x2="211.94" y2="492.00" stroke="#000" stroke-width="1.2" />
<polygon points="208.44,485.50 214.04,496.50 202.84,496.50" fill="#000" stroke="#000" stroke-width="1" stroke-linejoin="round"/>
<line x1="224.30" y1="489.50" x2="224.30" y2="491.50" stroke="#000" stroke-width="1.2" />
<line x1="220.80" y1="489.50" x2="227.80" y2="489.50" stroke="#000" stroke-width="1.2" />
<line x1="220.80" y1="491.50" x2="227.80" y2="491.50" stroke="#000" stroke-width="1.2" />
<polygon points="224.30,485.00 229.90,496.00 218.70,496.00" fill="#000" stroke="#000" stroke-width="1" stroke-linejoin="round"/>
<line x1="240.16" y1="488.00" x2="240.16" y2="490.00" stroke="#000" stroke-width="1.2" />
<line x1="236.66" y1="488.00" x2="243.66" y2="488.00" stroke="#000" stroke-width="1.2" />
<line x1="236.66" y1="490.00" x2="243.66" y2="490.00" stroke="#000" stroke-width="1.2" />
<polygon points="240.16,483.50 245.76,494.50 234.56,494.50" fill="#000" stroke="#000" stroke-width="1" stroke-linejoin="round"/>
<line x1="256.02" y1="489.30" x2="256.02" y2="491.30" stroke="#000" stroke-width="1.2" />
<line x1="252.52" y1="489.30" x2="259.52" y2="489.30" stroke="#000" stroke-width="1.2" />
<line x1="252.52" y1="491.30" x2="259.52" y2="491.30" stroke="#000" stroke-width="1.2" />
<polygon points="256.02,484.80 261.62,495.80 250.42,495.80" fill="#000" stroke="#000" stroke-width="1" stroke-linejoin="round"/>
<line x1="271.88" y1="489.00" x2="271.88" y2="491.00" stroke="#000" stroke-width="1.2" />
<line x1="268.38" y1="489.00" x2="275.38" y2="489.00" stroke="#000" stroke-width="1.2" />
<line x1="268.38" y1="491.00" x2="275.38" y2="491.00" stroke="#000" stroke-width="1.2" />
<polygon points="271.88,484.50 277.48,495.50 266.28,495.50" fill="#000" stroke="#000" stroke-width="1" stroke-linejoin="round"/>
<line x1="287.74" y1="488.50" x2="287.74" y2="490.50" stroke="#000" stroke-width="1.2" />
<line x1="284.24" y1="488.50" x2="291.24" y2="488.50" stroke="#000" stroke-width="1.2" />
<line x1="284.24" y1="490.50" x2="291.24" y2="490.50" stroke="#000" stroke-width="1.2" />
<polygon points="287.74,484.00 293.34,495.00 282.14,495.00" fill="#000" stroke="#000" stroke-width="1" stroke-linejoin="round"/>
<line x1="303.60" y1="488.50" x2="303.60" y2="490.50" stroke="#000" stroke-width="1.2" />
<line x1="300.10" y1="488.50" x2="307.10" y2="488.50" stroke="#000" stroke-width="1.2" />
<line x1="300.10" y1="490.50" x2="307.10" y2="490.50" stroke="#000" stroke-width="1.2" />
<polygon points="303.60,484.00 309.20,495.00 298.00,495.00" fill="#000" stroke="#000" stroke-width="1" stroke-linejoin="round"/>
<line x1="65.70" y1="403.00" x2="65.70" y2="418.00" stroke="#000" stroke-width="2.0" />
<line x1="60.00" y1="403.00" x2="71.40" y2="403.00" stroke="#000" stroke-width="2.0" />
<line x1="60.00" y1="418.00" x2="71.40" y2="418.00" stroke="#000" stroke-width="2.0" />
<line x1="81.56" y1="398.80" x2="81.56" y2="418.00" stroke="#000" stroke-width="2.0" />
<line x1="75.86" y1="398.80" x2="87.26" y2="398.80" stroke="#000" stroke-width="2.0" />
<line x1="75.86" y1="418.00" x2="87.26" y2="418.00" stroke="#000" stroke-width="2.0" />
<line x1="97.42" y1="376.80" x2="97.42" y2="405.20" stroke="#000" stroke-width="2.0" />
<line x1="91.72" y1="376.80" x2="103.12" y2="376.80" stroke="#000" stroke-width="2.0" />
<line x1="91.72" y1="405.20" x2="103.12" y2="405.20" stroke="#000" stroke-width="2.0" />
<line x1="113.28" y1="371.60" x2="113.28" y2="388.80" stroke="#000" stroke-width="2.0" />
<line x1="107.58" y1="371.60" x2="118.98" y2="371.60" stroke="#000" stroke-width="2.0" />
<line x1="107.58" y1="388.80" x2="118.98" y2="388.80" stroke="#000" stroke-width="2.0" />
<line x1="129.14" y1="372.40" x2="129.14" y2="401.60" stroke="#000" stroke-width="2.0" />
<line x1="123.44" y1="372.40" x2="134.84" y2="372.40" stroke="#000" stroke-width="2.0" />
<line x1="123.44" y1="401.60" x2="134.84" y2="401.60" stroke="#000" stroke-width="2.0" />
<line x1="145.00" y1="360.60" x2="145.00" y2="382.60" stroke="#000" stroke-width="2.0" />
<line x1="139.30" y1="360.60" x2="150.70" y2="360.60" stroke="#000" stroke-width="2.0" />
<line x1="139.30" y1="382.60" x2="150.70" y2="382.60" stroke="#000" stroke-width="2.0" />
<line x1="160.86" y1="361.40" x2="160.86" y2="381.80" stroke="#000" stroke-width="2.0" />
<line x1="155.16" y1="361.40" x2="166.56" y2="361.40" stroke="#000" stroke-width="2.0" />
<line x1="155.16" y1="381.80" x2="166.56" y2="381.80" stroke="#000" stroke-width="2.0" />
<line x1="176.72" y1="339.30" x2="176.72" y2="366.70" stroke="#000" stroke-width="2.0" />
<line x1="171.02" y1="339.30" x2="182.42" y2="339.30" stroke="#000" stroke-width="2.0" />
<line x1="171.02" y1="366.70" x2="182.42" y2="366.70" stroke="#000" stroke-width="2.0" />
<line x1="192.58" y1="359.70" x2="192.58" y2="383.50" stroke="#000" stroke-width="2.0" />
<line x1="186.88" y1="359.70" x2="198.28" y2="359.70" stroke="#000" stroke-width="2.0" />
<line x1="186.88" y1="383.50" x2="198.28" y2="383.50" stroke="#000" stroke-width="2.0" />
<line x1="208.44" y1="362.20" x2="208.44" y2="388.00" stroke="#000" stroke-width="2.0" />
<line x1="202.74" y1="362.20" x2="214.14" y2="362.20" stroke="#000" stroke-width="2.0" />
<line x1="202.74" y1="388.00" x2="214.14" y2="388.00" stroke="#000" stroke-width="2.0" />
<line x1="224.30" y1="354.60" x2="224.30" y2="377.20" stroke="#000" stroke-width="2.0" />
<line x1="218.60" y1="354.60" x2="230.00" y2="354.60" stroke="#000" stroke-width="2.0" />
<line x1="218.60" y1="377.20" x2="230.00" y2="377.20" stroke="#000" stroke-width="2.0" />
<line x1="240.16" y1="349.10" x2="240.16" y2="366.30" stroke="#000" stroke-width="2.0" />
<line x1="234.46" y1="349.10" x2="245.86" y2="349.10" stroke="#000" stroke-width="2.0" />
<line x1="234.46" y1="366.30" x2="245.86" y2="366.30" stroke="#000" stroke-width="2.0" />
<line x1="256.02" y1="366.50" x2="256.02" y2="391.10" stroke="#000" stroke-width="2.0" />
<line x1="250.32" y1="366.50" x2="261.72" y2="366.50" stroke="#000" stroke-width="2.0" />
<line x1="250.32" y1="391.10" x2="261.72" y2="391.10" stroke="#000" stroke-width="2.0" />
<line x1="271.88" y1="364.30" x2="271.88" y2="389.30" stroke="#000" stroke-width="2.0" />
<line x1="266.18" y1="364.30" x2="277.58" y2="364.30" stroke="#000" stroke-width="2.0" />
<line x1="266.18" y1="389.30" x2="277.58" y2="389.30" stroke="#000" stroke-width="2.0" />
<line x1="287.74" y1="349.30" x2="287.74" y2="375.70" stroke="#000" stroke-width="2.0" />
<line x1="282.04" y1="349.30" x2="293.44" y2="349.30" stroke="#000" stroke-width="2.0" />
<line x1="282.04" y1="375.70" x2="293.44" y2="375.70" stroke="#000" stroke-width="2.0" />
<line x1="303.60" y1="386.30" x2="303.60" y2="405.90" stroke="#000" stroke-width="2.0" />
<line x1="297.90" y1="386.30" x2="309.30" y2="386.30" stroke="#000" stroke-width="2.0" />
<line x1="297.90" y1="405.90" x2="309.30" y2="405.90" stroke="#000" stroke-width="2.0" />
<circle cx="65.70" cy="410.50" r="5.2" fill="#000"/>
<circle cx="81.56" cy="408.40" r="5.2" fill="#000"/>
<circle cx="97.42" cy="391.00" r="5.2" fill="#000"/>
<circle cx="113.28" cy="380.20" r="5.2" fill="#000"/>
<circle cx="129.14" cy="387.00" r="5.2" fill="#000"/>
<circle cx="145.00" cy="371.60" r="5.2" fill="#000"/>
<circle cx="160.86" cy="371.60" r="5.2" fill="#000"/>
<circle cx="176.72" cy="353.00" r="5.2" fill="#000"/>
<circle cx="192.58" cy="371.60" r="5.2" fill="#000"/>
<circle cx="208.44" cy="375.10" r="5.2" fill="#000"/>
<circle cx="224.30" cy="365.90" r="5.2" fill="#000"/>
<circle cx="240.16" cy="357.70" r="5.2" fill="#000"/>
<circle cx="256.02" cy="378.80" r="5.2" fill="#000"/>
<circle cx="271.88" cy="376.80" r="5.2" fill="#000"/>
<circle cx="287.74" cy="362.50" r="5.2" fill="#000"/>
<circle cx="303.60" cy="396.10" r="5.2" fill="#000"/>
<polygon points="44.00,289.20 48.80,299.20 39.20,299.20" fill="#fff" stroke="#000" stroke-width="2.3" stroke-linejoin="round"/>
<text x="62.80" y="298.50" font-size="13.3" font-weight="normal" text-anchor="start" textLength="103.0" lengthAdjust="spacingAndGlyphs" >Water, Sal ContS</text>
<polygon points="44.00,309.25 48.65,318.15 39.35,318.15" fill="#000" stroke="#000" stroke-width="1" stroke-linejoin="round"/>
<text x="62.80" y="317.60" font-size="13.3" font-weight="normal" text-anchor="start" textLength="108.5" lengthAdjust="spacingAndGlyphs" >Water, Coc ContS</text>
<circle cx="181.80" cy="293.80" r="4.8" fill="#fff" stroke="#000" stroke-width="2.4"/>
<text x="200.20" y="298.00" font-size="13.4" font-weight="normal" text-anchor="start" textLength="116.7" lengthAdjust="spacingAndGlyphs" >Sucrose, Sal ContS</text>
<circle cx="181.80" cy="312.70" r="5.2" fill="#000"/>
<text x="200.20" y="317.30" font-size="13.4" font-weight="normal" text-anchor="start" textLength="122.0" lengthAdjust="spacingAndGlyphs" >Sucrose, Coc ContS</text>
<text x="373.30" y="293.60" font-size="18" font-weight="bold" text-anchor="start" >D)</text>
<line x1="437.90" y1="328.60" x2="437.90" y2="492.80" stroke="#000" stroke-width="1.4" />
<line x1="432.40" y1="329.30" x2="437.90" y2="329.30" stroke="#000" stroke-width="1.4" />
<text x="431.40" y="333.38" font-size="11.4" font-weight="bold" text-anchor="end" >250</text>
<line x1="432.40" y1="361.86" x2="437.90" y2="361.86" stroke="#000" stroke-width="1.4" />
<text x="431.40" y="365.94" font-size="11.4" font-weight="bold" text-anchor="end" >200</text>
<line x1="432.40" y1="394.42" x2="437.90" y2="394.42" stroke="#000" stroke-width="1.4" />
<text x="431.40" y="398.50" font-size="11.4" font-weight="bold" text-anchor="end" >150</text>
<line x1="432.40" y1="426.98" x2="437.90" y2="426.98" stroke="#000" stroke-width="1.4" />
<text x="431.40" y="431.06" font-size="11.4" font-weight="bold" text-anchor="end" >100</text>
<line x1="432.40" y1="459.54" x2="437.90" y2="459.54" stroke="#000" stroke-width="1.4" />
<text x="431.40" y="463.62" font-size="11.4" font-weight="bold" text-anchor="end" >50</text>
<line x1="432.40" y1="492.10" x2="437.90" y2="492.10" stroke="#000" stroke-width="1.4" />
<text x="431.40" y="496.18" font-size="11.4" font-weight="bold" text-anchor="end" >0</text>
<line x1="437.20" y1="492.10" x2="683.20" y2="492.10" stroke="#000" stroke-width="1.4" />
<line x1="468.51" y1="492.10" x2="468.51" y2="497.90" stroke="#000" stroke-width="1.4" />
<line x1="529.74" y1="492.10" x2="529.74" y2="497.90" stroke="#000" stroke-width="1.4" />
<line x1="590.96" y1="492.10" x2="590.96" y2="497.90" stroke="#000" stroke-width="1.4" />
<line x1="652.19" y1="492.10" x2="652.19" y2="497.90" stroke="#000" stroke-width="1.4" />
<line x1="468.51" y1="487.60" x2="468.51" y2="489.90" stroke="#000" stroke-width="1.6" />
<line x1="458.01" y1="487.60" x2="479.01" y2="487.60" stroke="#000" stroke-width="1.6" />
<path d="M448.01,492.10 V489.30 H489.01 V492.10" fill="#fff" stroke="#000" stroke-width="2.0" stroke-linejoin="miter"/>
<line x1="529.74" y1="342.50" x2="529.74" y2="361.00" stroke="#000" stroke-width="2.0" />
<line x1="518.74" y1="342.50" x2="540.74" y2="342.50" stroke="#000" stroke-width="2.0" />
<path d="M509.24,492.10 V361.20 H550.24 V492.10" fill="#000" stroke="#000" stroke-width="2.2" stroke-linejoin="miter"/>
<line x1="590.96" y1="488.60" x2="590.96" y2="489.80" stroke="#000" stroke-width="1.6" />
<line x1="580.46" y1="488.60" x2="601.46" y2="488.60" stroke="#000" stroke-width="1.6" />
<path d="M570.46,492.10 V490.00 H611.46 V492.10" fill="#000" stroke="#000" stroke-width="2.0" stroke-linejoin="miter"/>
<line x1="652.19" y1="341.80" x2="652.19" y2="354.00" stroke="#000" stroke-width="2.0" />
<line x1="641.19" y1="341.80" x2="663.19" y2="341.80" stroke="#000" stroke-width="2.0" />
<path d="M631.69,492.10 V354.40 H672.69 V492.10" fill="#000" stroke="#000" stroke-width="2.2" stroke-linejoin="miter"/>
<line x1="560.40" y1="336.20" x2="560.40" y2="492.10" stroke="#000" stroke-width="2.2" />
<text x="0" y="0" transform="translate(470.91,509.40) rotate(-45)" font-size="12" font-weight="bold" text-anchor="end" >Wat</text>
<text x="0" y="0" transform="translate(532.14,509.40) rotate(-45)" font-size="12" font-weight="bold" text-anchor="end" >Suc</text>
<text x="0" y="0" transform="translate(593.36,509.40) rotate(-45)" font-size="12" font-weight="bold" text-anchor="end" >Wat</text>
<text x="0" y="0" transform="translate(654.59,509.40) rotate(-45)" font-size="12" font-weight="bold" text-anchor="end" >Suc</text>
<text x="491.10" y="322.00" font-size="14.7" font-weight="normal" text-anchor="middle" textLength="40.5" lengthAdjust="spacingAndGlyphs" >Saline</text>
<text x="620.70" y="321.20" font-size="14.7" font-weight="normal" text-anchor="middle" textLength="55.0" lengthAdjust="spacingAndGlyphs" >Cocaine</text>
<text x="530.54" y="339.20" font-size="14" font-weight="normal" text-anchor="middle" >**</text>
<text x="651.69" y="339.20" font-size="14" font-weight="normal" text-anchor="middle" >**</text>
<text x="0" y="0" transform="translate(384.90,411.40) rotate(-90)" font-size="13.6" font-weight="bold" text-anchor="middle" textLength="175.8" lengthAdjust="spacingAndGlyphs" >Average Water and Sucrose</text>
<text x="0" y="0" transform="translate(401.70,411.15) rotate(-90)" font-size="13.6" font-weight="bold" text-anchor="middle" textLength="131.5" lengthAdjust="spacingAndGlyphs" >Consumption/48h (g)</text>
<text x="6.30" y="577.20" font-size="18" font-weight="bold" text-anchor="start" >E)</text>
<line x1="64.20" y1="585.40" x2="64.20" y2="751.80" stroke="#000" stroke-width="1.4" />
<line x1="58.70" y1="586.10" x2="64.20" y2="586.10" stroke="#000" stroke-width="1.4" />
<text x="57.70" y="590.18" font-size="11.4" font-weight="bold" text-anchor="end" >100</text>
<line x1="58.70" y1="619.10" x2="64.20" y2="619.10" stroke="#000" stroke-width="1.4" />
<text x="57.70" y="623.18" font-size="11.4" font-weight="bold" text-anchor="end" >80</text>
<line x1="58.70" y1="652.10" x2="64.20" y2="652.10" stroke="#000" stroke-width="1.4" />
<text x="57.70" y="656.18" font-size="11.4" font-weight="bold" text-anchor="end" >60</text>
<line x1="58.70" y1="685.10" x2="64.20" y2="685.10" stroke="#000" stroke-width="1.4" />
<text x="57.70" y="689.18" font-size="11.4" font-weight="bold" text-anchor="end" >40</text>
<line x1="58.70" y1="718.10" x2="64.20" y2="718.10" stroke="#000" stroke-width="1.4" />
<text x="57.70" y="722.18" font-size="11.4" font-weight="bold" text-anchor="end" >20</text>
<line x1="58.70" y1="751.10" x2="64.20" y2="751.10" stroke="#000" stroke-width="1.4" />
<text x="57.70" y="755.18" font-size="11.4" font-weight="bold" text-anchor="end" >0</text>
<line x1="63.50" y1="751.10" x2="312.50" y2="751.10" stroke="#000" stroke-width="1.4" />
<line x1="76.30" y1="751.10" x2="76.30" y2="756.10" stroke="#000" stroke-width="1.4" />
<line x1="92.31" y1="751.10" x2="92.31" y2="756.10" stroke="#000" stroke-width="1.4" />
<line x1="108.31" y1="751.10" x2="108.31" y2="756.10" stroke="#000" stroke-width="1.4" />
<line x1="124.32" y1="751.10" x2="124.32" y2="756.10" stroke="#000" stroke-width="1.4" />
<line x1="140.33" y1="751.10" x2="140.33" y2="756.10" stroke="#000" stroke-width="1.4" />
<line x1="156.33" y1="751.10" x2="156.33" y2="756.10" stroke="#000" stroke-width="1.4" />
<line x1="172.34" y1="751.10" x2="172.34" y2="756.10" stroke="#000" stroke-width="1.4" />
<line x1="188.34" y1="751.10" x2="188.34" y2="756.10" stroke="#000" stroke-width="1.4" />
<line x1="204.35" y1="751.10" x2="204.35" y2="756.10" stroke="#000" stroke-width="1.4" />
<line x1="220.36" y1="751.10" x2="220.36" y2="756.10" stroke="#000" stroke-width="1.4" />
<line x1="236.36" y1="751.10" x2="236.36" y2="756.10" stroke="#000" stroke-width="1.4" />
<line x1="252.37" y1="751.10" x2="252.37" y2="756.10" stroke="#000" stroke-width="1.4" />
<line x1="268.38" y1="751.10" x2="268.38" y2="756.10" stroke="#000" stroke-width="1.4" />
<line x1="284.38" y1="751.10" x2="284.38" y2="756.10" stroke="#000" stroke-width="1.4" />
<line x1="300.39" y1="751.10" x2="300.39" y2="756.10" stroke="#000" stroke-width="1.4" />
<text x="0" y="0" transform="translate(78.90,766.40) rotate(-45)" font-size="11.9" font-weight="bold" text-anchor="end" >2</text>
<text x="0" y="0" transform="translate(94.91,766.40) rotate(-45)" font-size="11.9" font-weight="bold" text-anchor="end" >4</text>
<text x="0" y="0" transform="translate(110.91,766.40) rotate(-45)" font-size="11.9" font-weight="bold" text-anchor="end" >6</text>
<text x="0" y="0" transform="translate(126.92,766.40) rotate(-45)" font-size="11.9" font-weight="bold" text-anchor="end" >8</text>
<text x="0" y="0" transform="translate(142.93,766.40) rotate(-45)" font-size="11.9" font-weight="bold" text-anchor="end" >10</text>
<text x="0" y="0" transform="translate(158.93,766.40) rotate(-45)" font-size="11.9" font-weight="bold" text-anchor="end" >12</text>
<text x="0" y="0" transform="translate(174.94,766.40) rotate(-45)" font-size="11.9" font-weight="bold" text-anchor="end" >14</text>
<text x="0" y="0" transform="translate(190.94,766.40) rotate(-45)" font-size="11.9" font-weight="bold" text-anchor="end" >16</text>
<text x="0" y="0" transform="translate(206.95,766.40) rotate(-45)" font-size="11.9" font-weight="bold" text-anchor="end" >18</text>
<text x="0" y="0" transform="translate(222.96,766.40) rotate(-45)" font-size="11.9" font-weight="bold" text-anchor="end" >20</text>
<text x="0" y="0" transform="translate(238.96,766.40) rotate(-45)" font-size="11.9" font-weight="bold" text-anchor="end" >22</text>
<text x="0" y="0" transform="translate(254.97,766.40) rotate(-45)" font-size="11.9" font-weight="bold" text-anchor="end" >24</text>
<text x="0" y="0" transform="translate(270.98,766.40) rotate(-45)" font-size="11.9" font-weight="bold" text-anchor="end" >26</text>
<text x="0" y="0" transform="translate(286.98,766.40) rotate(-45)" font-size="11.9" font-weight="bold" text-anchor="end" >28</text>
<text x="0" y="0" transform="translate(302.99,766.40) rotate(-45)" font-size="11.9" font-weight="bold" text-anchor="end" >30</text>
<text x="187.70" y="797.60" font-size="13" font-weight="bold" text-anchor="middle" >Days</text>
<text x="0" y="0" transform="translate(30.40,667.15) rotate(-90)" font-size="14" font-weight="bold" text-anchor="middle" textLength="153.3" lengthAdjust="spacingAndGlyphs" >Sucrose Preference <tspan letter-spacing="1.2">(%)</tspan></text>
<circle cx="68.30" cy="591.30" r="4.8" fill="#fff" stroke="#000" stroke-width="2"/>
<circle cx="84.31" cy="588.40" r="4.8" fill="#fff" stroke="#000" stroke-width="2"/>
<circle cx="100.31" cy="588.40" r="4.8" fill="#fff" stroke="#000" stroke-width="2"/>
<circle cx="116.32" cy="590.90" r="4.8" fill="#fff" stroke="#000" stroke-width="2"/>
<circle cx="132.32" cy="587.00" r="4.8" fill="#fff" stroke="#000" stroke-width="2"/>
<circle cx="148.33" cy="588.80" r="4.8" fill="#fff" stroke="#000" stroke-width="2"/>
<circle cx="164.34" cy="588.80" r="4.8" fill="#fff" stroke="#000" stroke-width="2"/>
<circle cx="180.34" cy="592.80" r="4.8" fill="#fff" stroke="#000" stroke-width="2"/>
<circle cx="196.35" cy="591.40" r="4.8" fill="#fff" stroke="#000" stroke-width="2"/>
<circle cx="212.35" cy="591.80" r="4.8" fill="#fff" stroke="#000" stroke-width="2"/>
<circle cx="228.36" cy="588.00" r="4.8" fill="#fff" stroke="#000" stroke-width="2"/>
<circle cx="244.37" cy="592.30" r="4.8" fill="#fff" stroke="#000" stroke-width="2"/>
<circle cx="260.37" cy="588.00" r="4.8" fill="#fff" stroke="#000" stroke-width="2"/>
<circle cx="276.38" cy="589.80" r="4.8" fill="#fff" stroke="#000" stroke-width="2"/>
<circle cx="292.38" cy="589.80" r="4.8" fill="#fff" stroke="#000" stroke-width="2"/>
<circle cx="308.39" cy="591.90" r="4.8" fill="#fff" stroke="#000" stroke-width="2"/>
<circle cx="68.30" cy="591.10" r="5.85" fill="#000"/>
<circle cx="84.31" cy="588.40" r="5.85" fill="#000"/>
<circle cx="100.31" cy="588.40" r="5.85" fill="#000"/>
<circle cx="116.32" cy="588.00" r="5.85" fill="#000"/>
<circle cx="132.32" cy="587.00" r="5.85" fill="#000"/>
<circle cx="148.33" cy="588.80" r="5.85" fill="#000"/>
<circle cx="164.34" cy="588.80" r="5.85" fill="#000"/>
<circle cx="180.34" cy="587.40" r="5.85" fill="#000"/>
<circle cx="196.35" cy="588.40" r="5.85" fill="#000"/>
<circle cx="212.35" cy="588.40" r="5.85" fill="#000"/>
<circle cx="228.36" cy="588.00" r="5.85" fill="#000"/>
<circle cx="244.37" cy="589.80" r="5.85" fill="#000"/>
<circle cx="260.37" cy="588.00" r="5.85" fill="#000"/>
<circle cx="276.38" cy="589.80" r="5.85" fill="#000"/>
<circle cx="292.38" cy="589.80" r="5.85" fill="#000"/>
<circle cx="308.39" cy="588.80" r="5.85" fill="#000"/>
<circle cx="88.30" cy="710.40" r="4.9" fill="#fff" stroke="#000" stroke-width="2.4"/>
<text x="107.00" y="714.50" font-size="13.6" font-weight="normal" text-anchor="start" textLength="59.6" lengthAdjust="spacingAndGlyphs" >Sal ContS</text>
<circle cx="88.30" cy="729.30" r="5.3" fill="#000"/>
<text x="107.00" y="733.60" font-size="13.6" font-weight="normal" text-anchor="start" textLength="65.7" lengthAdjust="spacingAndGlyphs" >Coc ContS</text>
<text x="384.80" y="579.30" font-size="18" font-weight="bold" text-anchor="start" >F)</text>
<line x1="437.70" y1="588.60" x2="437.70" y2="752.10" stroke="#000" stroke-width="1.4" />
<line x1="432.20" y1="597.00" x2="437.70" y2="597.00" stroke="#000" stroke-width="1.4" />
<text x="431.50" y="601.08" font-size="11.4" font-weight="bold" text-anchor="end" >100</text>
<line x1="432.20" y1="674.20" x2="437.70" y2="674.20" stroke="#000" stroke-width="1.4" />
<text x="431.50" y="678.28" font-size="11.4" font-weight="bold" text-anchor="end" >50</text>
<line x1="432.20" y1="751.40" x2="437.70" y2="751.40" stroke="#000" stroke-width="1.4" />
<text x="431.50" y="755.48" font-size="11.4" font-weight="bold" text-anchor="end" >0</text>
<line x1="437.00" y1="751.40" x2="681.20" y2="751.40" stroke="#000" stroke-width="1.4" />
<line x1="498.57" y1="751.40" x2="498.57" y2="757.20" stroke="#000" stroke-width="1.4" />
<line x1="620.33" y1="751.40" x2="620.33" y2="757.20" stroke="#000" stroke-width="1.4" />
<line x1="498.57" y1="599.40" x2="498.57" y2="600.60" stroke="#000" stroke-width="1.6" />
<line x1="477.57" y1="599.40" x2="519.58" y2="599.40" stroke="#000" stroke-width="1.6" />
<path d="M458.07,751.40 V601.00 H539.08 V751.40" fill="#fff" stroke="#000" stroke-width="2.2" stroke-linejoin="miter"/>
<line x1="620.33" y1="598.20" x2="620.33" y2="599.00" stroke="#000" stroke-width="1.6" />
<line x1="599.33" y1="598.20" x2="641.33" y2="598.20" stroke="#000" stroke-width="1.6" />
<path d="M579.83,751.40 V599.20 H660.83 V751.40" fill="#000" stroke="#000" stroke-width="2.2" stroke-linejoin="miter"/>
<text x="0" y="0" transform="translate(500.97,768.90) rotate(-45)" font-size="12" font-weight="bold" text-anchor="end" >Sal</text>
<text x="0" y="0" transform="translate(622.73,768.90) rotate(-45)" font-size="12" font-weight="bold" text-anchor="end" >Coc</text>
<text x="0" y="0" transform="translate(384.40,670.40) rotate(-90)" font-size="13.4" font-weight="bold" text-anchor="middle" textLength="50.2" lengthAdjust="spacingAndGlyphs" >Average</text>
<text x="0" y="0" transform="translate(400.60,670.65) rotate(-90)" font-size="13.4" font-weight="bold" text-anchor="middle" textLength="150.3" lengthAdjust="spacingAndGlyphs" >Sucrose Preference <tspan letter-spacing="1.2">(%)</tspan></text>
</svg>
</body>
</html>
